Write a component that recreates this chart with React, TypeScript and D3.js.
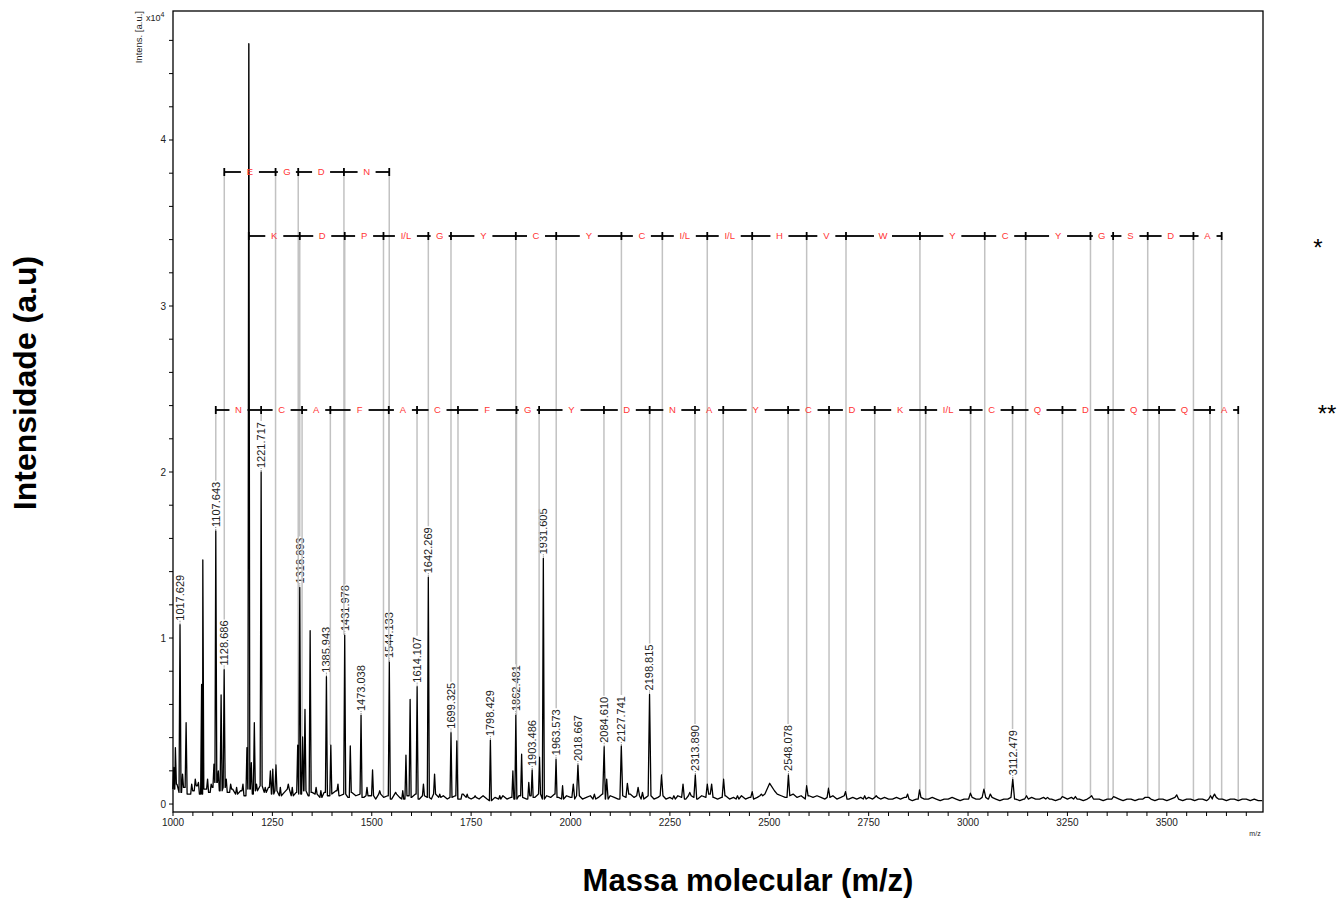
import * as d3 from 'd3';
import { useEffect, useRef } from 'react';

// baseline noise, one value every 10 Da from 1000 (intensity x10^4)
const baseStart = 1000;
const baseStep = 10;
const baseline = [
  0.09, 0.12, 0.07, 0.10, 0.06, 0.08, 0.11, 0.06, 0.09, 0.07, 0.10, 0.13, 0.08, 0.10, 0.07, 0.09, 0.06, 0.08, 0.05, 0.09, 0.06, 0.08, 0.11, 0.07, 0.10,
  0.06, 0.08, 0.05, 0.07, 0.09, 0.05, 0.07, 0.06, 0.08, 0.05, 0.07, 0.06, 0.04, 0.07, 0.05, 0.06, 0.08, 0.05, 0.06, 0.04, 0.07, 0.05, 0.06, 0.04, 0.05,
  0.05, 0.03, 0.06, 0.04, 0.05, 0.03, 0.06, 0.04, 0.03, 0.05, 0.04, 0.06, 0.03, 0.05, 0.04, 0.03, 0.06, 0.04, 0.05, 0.03, 0.04, 0.05, 0.03, 0.06, 0.04,
  0.03, 0.04, 0.03, 0.05, 0.03, 0.02, 0.04, 0.03, 0.05, 0.03, 0.04, 0.03, 0.05, 0.04, 0.03, 0.05, 0.04, 0.06, 0.03, 0.05, 0.04, 0.06, 0.04, 0.03, 0.05,
  0.04, 0.03, 0.05, 0.03, 0.04, 0.05, 0.03, 0.04, 0.06, 0.03, 0.05, 0.04, 0.03, 0.05, 0.04, 0.06, 0.04, 0.05, 0.03, 0.04, 0.05, 0.03, 0.04, 0.05, 0.03,
  0.04, 0.03, 0.05, 0.04, 0.03, 0.05, 0.04, 0.03, 0.05, 0.04, 0.06, 0.04, 0.03, 0.04, 0.05, 0.03, 0.04, 0.03, 0.05, 0.03, 0.04, 0.03, 0.04, 0.05, 0.06,
  0.12, 0.08, 0.06, 0.05, 0.04, 0.05, 0.06, 0.04, 0.05, 0.03, 0.05, 0.04, 0.05, 0.04, 0.03, 0.04, 0.05, 0.03, 0.04, 0.05, 0.03, 0.04, 0.03, 0.04, 0.03,
  0.04, 0.03, 0.04, 0.03, 0.04, 0.03, 0.03, 0.04, 0.03, 0.04, 0.03, 0.02, 0.03, 0.04, 0.03, 0.03, 0.04, 0.03, 0.02, 0.03, 0.03, 0.04, 0.03, 0.02, 0.03,
  0.03, 0.04, 0.03, 0.03, 0.04, 0.03, 0.04, 0.03, 0.02, 0.03, 0.03, 0.04, 0.03, 0.02, 0.03, 0.03, 0.04, 0.03, 0.03, 0.04, 0.03, 0.03, 0.02, 0.03, 0.04,
  0.03, 0.04, 0.03, 0.03, 0.02, 0.03, 0.04, 0.03, 0.03, 0.02, 0.03, 0.03, 0.04, 0.03, 0.02, 0.03, 0.03, 0.02, 0.03, 0.03, 0.04, 0.03, 0.02, 0.03, 0.03,
  0.02, 0.03, 0.04, 0.03, 0.02, 0.03, 0.03, 0.02, 0.03, 0.03, 0.02, 0.03, 0.04, 0.03, 0.03, 0.02, 0.03, 0.03, 0.02, 0.03, 0.03, 0.02, 0.03, 0.02, 0.02,
];

// peaks: m/z and height (x10^4)
const peakMz = [
  1002, 1006, 1017.629, 1024, 1033, 1047, 1056, 1064, 1072, 1075, 1087, 1096, 1103, 1107.643, 1114, 1121, 1128.686, 1134, 1145, 1160,
  1176, 1186, 1190.7, 1197, 1204.6, 1210, 1221.717, 1232, 1245, 1251, 1259, 1270, 1290, 1300, 1313.7, 1318.893, 1326, 1332, 1345, 1360,
  1372, 1385.943, 1397, 1415, 1431.978, 1446, 1473.038, 1488, 1502, 1520, 1544.133, 1560, 1578, 1586, 1596.5, 1614.107, 1630, 1642.269, 1658, 1671,
  1699.325, 1714, 1727, 1740, 1760, 1798.429, 1822, 1855, 1862.481, 1877, 1895, 1903.486, 1922, 1931.605, 1963.573, 1980, 2007, 2018.667, 2060, 2084.61,
  2091, 2127.741, 2143, 2170, 2181, 2198.815, 2229, 2260, 2283, 2300, 2313.89, 2344, 2355, 2385, 2420, 2457, 2480, 2501, 2548.078, 2594,
  2649, 2692, 2740, 2769, 2848, 2878, 3006, 3040, 3056, 3112.479, 3147, 3200, 3237, 3270, 3311, 3366, 3450, 3525, 3610, 3620,
];
const peakInt = [
  0.22, 0.34, 1.08, 0.18, 0.49, 0.12, 0.15, 0.13, 0.72, 1.47, 0.15, 0.12, 0.24, 1.645, 0.2, 0.657, 0.81, 0.15, 0.12, 0.1,
  0.12, 0.34, 4.58, 0.25, 0.49, 0.12, 2.0, 0.1, 0.2, 0.21, 0.235, 0.1, 0.12, 0.1, 0.355, 1.305, 0.405, 0.57, 1.044, 0.1,
  0.08, 0.767, 0.355, 0.12, 1.018, 0.35, 0.536, 0.1, 0.205, 0.08, 0.855, 0.07, 0.08, 0.295, 0.63, 0.707, 0.12, 1.366, 0.18, 0.06,
  0.43, 0.38, 0.06, 0.06, 0.05, 0.385, 0.05, 0.2, 0.536, 0.3, 0.13, 0.205, 0.283, 1.48, 0.27, 0.11, 0.12, 0.235, 0.06, 0.345,
  0.15, 0.35, 0.125, 0.1, 0.07, 0.66, 0.175, 0.05, 0.12, 0.07, 0.175, 0.12, 0.12, 0.15, 0.05, 0.075, 0.06, 0.125, 0.175, 0.11,
  0.095, 0.075, 0.05, 0.05, 0.06, 0.085, 0.065, 0.09, 0.06, 0.15, 0.05, 0.04, 0.045, 0.045, 0.05, 0.045, 0.04, 0.055, 0.05, 0.06,
];
const broadPeaks = [2501];

const peakLabels = [
  '1017.629', '1107.643', '1128.686', '1221.717', '1318.893', '1385.943', '1431.978', '1473.038', '1544.133', '1614.107',
  '1642.269', '1699.325', '1798.429', '1862.481', '1903.486', '1931.605', '1963.573', '2018.667', '2084.610', '2127.741',
  '2198.815', '2313.890', '2548.078', '3112.479',
];

// sequence ladders: boundary m/z and residue between them
const ladder1Mz = [1129.0, 1258.0, 1315.0, 1430.0, 1544.0];
const ladder1Res = ['E', 'G', 'D', 'N'];
const ladder2Mz = [1190.7, 1318.9, 1432.0, 1529.5, 1642.3, 1699.3, 1862.4, 1964.0, 2128.0, 2231.0, 2344.0, 2457.0, 2594.0, 2693.0, 2879.0, 3042.0, 3145.0, 3308.0, 3365.0, 3452.0, 3567.0, 3638.0];
const ladder2Res = ['K', 'D', 'P', 'I/L', 'G', 'Y', 'C', 'Y', 'C', 'I/L', 'I/L', 'H', 'V', 'W', 'Y', 'C', 'Y', 'G', 'S', 'D', 'A'];
const ladder3Mz = [1107.6, 1221.7, 1324.7, 1395.8, 1542.8, 1613.9, 1716.9, 1864.0, 1921.0, 2084.1, 2199.1, 2313.1, 2384.2, 2547.3, 2650.3, 2765.3, 2893.4, 3006.5, 3112.0, 3237.5, 3352.6, 3480.6, 3608.7, 3679.7];
const ladder3Res = ['N', 'C', 'A', 'F', 'A', 'C', 'F', 'G', 'Y', 'D', 'N', 'A', 'Y', 'C', 'D', 'K', 'I/L', 'C', 'Q', 'D', 'Q', 'Q', 'A'];

const xTicks = [1000, 1250, 1500, 1750, 2000, 2250, 2500, 2750, 3000, 3250, 3500];
const yTicks = [0, 1, 2, 3, 4];

const FONT = 'Arial, "Liberation Sans", sans-serif';

const App = () => {
  const ref = useRef<SVGSVGElement>(null);
  useEffect(() => {
    DrawChart();
  }, []);

  const DrawChart = () => {
    const svg = d3.select(ref.current);
    svg.selectAll('*').remove();

    const x = d3.scaleLinear().domain([1000, 3742]).range([173, 1263]);
    const y = d3.scaleLinear().domain([-0.048, 4.777]).range([812, 11]);

    const halfW = (p: number) => (broadPeaks.includes(p) ? 12 : p < 2000 ? 2.5 : p < 3000 ? 3.5 : 4.5);
    const baseAt = (mz: number) => {
      const i = Math.round((mz - baseStart) / baseStep);
      return baseline[Math.max(0, Math.min(baseline.length - 1, i))];
    };

    // spectrum points
    const pts: [number, number][] = [];
    baseline.forEach((b, i) => {
      const mz = baseStart + i * baseStep;
      if (!peakMz.some((p) => Math.abs(p - mz) < halfW(p) + 1)) pts.push([mz, b]);
    });
    peakMz.forEach((p, i) => {
      const w = halfW(p);
      pts.push([p - w, baseAt(p - w)], [p, peakInt[i]], [p + w, baseAt(p + w)]);
    });
    pts.sort((a, b) => a[0] - b[0]);

    const specMax = (mz: number) => {
      let m = baseAt(mz);
      peakMz.forEach((p, i) => {
        if (Math.abs(p - mz) <= 2 && peakInt[i] > m) m = peakInt[i];
      });
      return m;
    };
    const peakHeight = (mz: number) => {
      let best = 0, d = 1e9;
      peakMz.forEach((p, i) => {
        if (Math.abs(p - mz) < d) { d = Math.abs(p - mz); best = peakInt[i]; }
      });
      return best;
    };

    // frame
    svg.append('rect')
      .attr('x', 173).attr('y', 11).attr('width', 1090).attr('height', 801)
      .attr('fill', 'none').attr('stroke', '#000').attr('stroke-width', 1.3);

    // x axis ticks
    const xa = svg.append('g').attr('font-family', FONT);
    d3.range(1000, 3742, 50).forEach((t) => {
      xa.append('line').attr('x1', x(t)).attr('x2', x(t)).attr('y1', 812).attr('y2', 816)
        .attr('stroke', '#000').attr('stroke-width', 1);
    });
    xa.selectAll('text.xt').data(xTicks).enter().append('text')
      .attr('x', (d) => x(d)).attr('y', 826).attr('text-anchor', 'middle')
      .style('font-size', '10px').attr('fill', '#222').text((d) => d);
    xa.append('text').attr('x', 1255).attr('y', 836).attr('text-anchor', 'middle')
      .style('font-size', '7px').attr('fill', '#222').text('m/z');

    // y axis ticks
    const ya = svg.append('g').attr('font-family', FONT);
    d3.range(0, 4.61, 0.2).forEach((t) => {
      ya.append('line').attr('x1', 169).attr('x2', 173).attr('y1', y(t)).attr('y2', y(t))
        .attr('stroke', '#000').attr('stroke-width', 1);
    });
    ya.selectAll('text.yt').data(yTicks).enter().append('text')
      .attr('x', 166).attr('y', (d) => y(d)).attr('dy', '0.35em').attr('text-anchor', 'end')
      .style('font-size', '10px').attr('fill', '#222').text((d) => d);
    const exp = ya.append('text').attr('x', 146).attr('y', 21).style('font-size', '9px').attr('fill', '#222');
    exp.append('tspan').text('x10');
    exp.append('tspan').attr('dy', -4).style('font-size', '7px').text('4');
    ya.append('text').attr('transform', 'translate(142,11) rotate(-90)').attr('text-anchor', 'end')
      .style('font-size', '9.5px').attr('fill', '#222').text('Intens. [a.u.]');

    // peak labels
    const labelTops: { mz: number; top: number }[] = [];
    const lg = svg.append('g').attr('font-family', FONT);
    peakLabels.forEach((l) => {
      const mz = +l;
      const top = y(peakHeight(mz));
      lg.append('line').attr('x1', x(mz)).attr('x2', x(mz)).attr('y1', top - 1).attr('y2', top - 4)
        .attr('stroke', '#555').attr('stroke-width', 0.8).attr('stroke-dasharray', '1,1');
      const t = lg.append('text')
        .attr('transform', `translate(${x(mz)},${top - 4}) rotate(-90)`)
        .attr('dy', '0.35em').attr('text-anchor', 'start')
        .style('font-size', '11px').attr('fill', '#222').text(l);
      const len = (t.node() as SVGTextElement).getComputedTextLength();
      labelTops.push({ mz, top: top - 4 - len - 1 });
    });

    // grey guide lines from ladders down to spectrum
    const rows = [
      { mz: ladder1Mz, res: ladder1Res, yy: 172 },
      { mz: ladder2Mz, res: ladder2Res, yy: 236 },
      { mz: ladder3Mz, res: ladder3Res, yy: 410 },
    ];
    const gl = svg.append('g');
    rows.forEach((r) => {
      r.mz.forEach((m) => {
        const lab = labelTops.find((lt) => Math.abs(lt.mz - m) <= 1);
        const end = lab ? lab.top : y(specMax(m));
        gl.append('line').attr('x1', x(m)).attr('x2', x(m)).attr('y1', r.yy).attr('y2', end)
          .attr('stroke', '#c2c2c2').attr('stroke-width', 1.5);
      });
    });

    // spectrum
    const line = d3.line<[number, number]>().x((d) => x(d[0])).y((d) => y(d[1]));
    svg.append('path').datum(pts).attr('d', line).attr('fill', 'none')
      .attr('stroke', '#000').attr('stroke-width', 1.3).attr('stroke-linejoin', 'round');

    // ladders
    const ld = svg.append('g').attr('font-family', FONT);
    rows.forEach((r) => {
      r.res.forEach((res, i) => {
        const x0 = x(r.mz[i]), x1 = x(r.mz[i + 1]);
        const xc = (x0 + x1) / 2;
        const gap = res.length > 1 ? 11 : 9;
        if (xc - gap > x0) ld.append('line').attr('x1', x0).attr('x2', xc - gap).attr('y1', r.yy).attr('y2', r.yy)
          .attr('stroke', '#000').attr('stroke-width', 1.8);
        if (xc + gap < x1) ld.append('line').attr('x1', xc + gap).attr('x2', x1).attr('y1', r.yy).attr('y2', r.yy)
          .attr('stroke', '#000').attr('stroke-width', 1.8);
        ld.append('text').attr('x', xc).attr('y', r.yy).attr('dy', '0.35em').attr('text-anchor', 'middle')
          .style('font-size', '9.5px').attr('fill', '#ff3535').text(res);
      });
      r.mz.forEach((m) => {
        ld.append('line').attr('x1', x(m)).attr('x2', x(m)).attr('y1', r.yy - 4).attr('y2', r.yy + 4)
          .attr('stroke', '#000').attr('stroke-width', 1.8);
      });
    });

    // titles
    svg.append('text').attr('transform', 'translate(36,383) rotate(-90)').attr('text-anchor', 'middle')
      .attr('font-family', FONT).style('font-size', '32px').style('font-weight', 'bold').text('Intensidade (a.u)');
    svg.append('text').attr('x', 748).attr('y', 891).attr('text-anchor', 'middle')
      .attr('font-family', FONT).style('font-size', '31px').style('font-weight', 'bold').text('Massa molecular (m/z)');
    svg.append('text').attr('x', 1318).attr('y', 256).attr('text-anchor', 'middle')
      .attr('font-family', FONT).style('font-size', '24px').text('*');
    svg.append('text').attr('x', 1327).attr('y', 422).attr('text-anchor', 'middle')
      .attr('font-family', FONT).style('font-size', '24px').text('**');
  };

  return (
    <svg ref={ref} width={1342} height={899}
      style={{ position: 'absolute', left: 0, top: 0, background: '#fff' }} />
  );
};

export default App;
